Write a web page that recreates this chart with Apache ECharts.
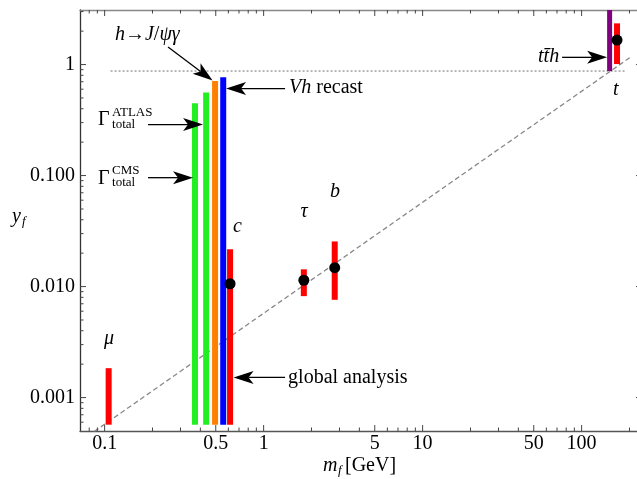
<!DOCTYPE html>
<html>
<head>
<meta charset="utf-8">
<title>Yukawa couplings</title>
<script src="https://cdn.jsdelivr.net/npm/echarts@6/dist/echarts.min.js"></script>
<style>html,body{margin:0;padding:0;background:#fff;}</style>
</head>
<body>
<div id="main" style="width:637px;height:479px;"></div>
<script type="text/javascript">
// axis ranges (both log); the right frame sits just outside the picture
var xMin = 0.07, xMax = 223, xFrameRight = 240;
var yMin = 0.0005, yMax = 3.1;

// ticks
var xMajorTicks = [0.1, 0.5, 1, 5, 10, 50, 100];
var xTickLabels = ['0.1', '0.5', '1', '5', '10', '50', '100'];
var xMinorTicks = [0.08, 0.09, 0.2, 0.3, 0.4, 0.6, 0.7, 0.8, 0.9, 2, 3, 4, 6, 7, 8, 9,
                   20, 30, 40, 60, 70, 80, 90, 200];
var yMajorTicks = [0.001, 0.01, 0.1, 1];
var yTickLabels = ['0.001', '0.010', '0.100', '1'];
var yMinorTicks = [0.0006, 0.0007, 0.0008, 0.0009, 0.002, 0.003, 0.004, 0.005, 0.006, 0.007, 0.008, 0.009,
                   0.02, 0.03, 0.04, 0.05, 0.06, 0.07, 0.08, 0.09, 0.2, 0.3, 0.4, 0.5, 0.6, 0.7, 0.8, 0.9, 2, 3];

// charm upper limits: Gamma_total CMS, Gamma_total ATLAS, h->J/psi gamma, Vh recast
var limitX = [0.37, 0.435, 0.495, 0.557];
var limitLow = [0.00057, 0.00057, 0.00057, 0.00057];
var limitHigh = [0.447, 0.56, 0.71, 0.767];
var limitColors = ['#22ee22', '#22ee22', '#ff8000', '#0000ff'];

// ttH
var tthX = [150];
var tthLow = [0.874];
var tthHigh = [3.1];

// global analysis
var fermionNames = ['μ', 'c', 'τ', 'b', 't'];
var fermionX = [0.106, 0.615, 1.79, 2.8, 167];
var fermionLow = [0.00057, 0.00057, 0.0082, 0.0076, 1.01];
var fermionHigh = [0.00184, 0.0217, 0.0143, 0.0255, 2.35];
var fitX = [0.615, 1.79, 2.8, 167];
var fitY = [0.0106, 0.0114, 0.0148, 1.66];
var fermionLabelX = [0.1066, 0.684, 1.796, 2.814, 164];
var fermionLabelY = [0.0034, 0.0345, 0.0471, 0.0713, 0.589];

// SM line and reference line
var smLineX = [0.0861, 202];
var smLineY = [0.000495, 1.16];
var refLineX = [0.109, 188];
var refLineY = [0.874, 0.874];

// arrows (tail -> head)
var arrowX1 = [0.2505, 1.364, 0.1875, 0.1875, 1.364, 75.4];
var arrowY1 = [1.438, 0.6075, 0.2877, 0.0957, 0.00152, 1.161];
var arrowX2 = [0.4774, 0.5804, 0.416, 0.3598, 0.647, 144.7];
var arrowY2 = [0.717, 0.6075, 0.2877, 0.0957, 0.00152, 1.161];

// annotation texts
var noteTexts = ['{i|h}→{i|J}/{i|ψγ}', '{i|Vh} recast', 'global analysis', '{i|tt\u0304h}'];
var noteX = [0.1162, 1.445, 1.425, 72.2];
var noteY = [1.845, 0.614, 0.00152, 1.169];
var noteAlign = ['left', 'left', 'left', 'right'];
var gammaSups = ['ATLAS', 'CMS'];
var gammaX = [0.0909, 0.0909];
var gammaY = [0.329, 0.0977];

var FONT = 'Liberation Serif';
var FS = 20;
var ITALIC = {fontStyle: 'italic', fontSize: FS, fontFamily: FONT};

function textEl(x, y, text, align, size, italic) {
    return {
        type: 'text', x: x, y: y,
        style: {
            text: text, fill: '#000',
            fontSize: size, fontFamily: FONT, fontStyle: italic ? 'italic' : 'normal',
            align: align, textAlign: align, verticalAlign: 'middle', textVerticalAlign: 'middle',
            rich: {i: ITALIC}
        }
    };
}

function renderXTick(params, api) {
    var cs = params.coordSys;
    var px = api.coord([api.value(0), yMin])[0];
    var major = api.value(2) === 1;
    var len = major ? 6 : 3.5;
    var bot = cs.y + cs.height;
    var ch = [
        {type: 'line', shape: {x1: px, y1: bot, x2: px, y2: bot - len}, style: {stroke: '#444', lineWidth: 1}},
        {type: 'line', shape: {x1: px, y1: cs.y, x2: px, y2: cs.y + len}, style: {stroke: '#444', lineWidth: 1}}
    ];
    if (major) ch.push(textEl(px, bot + 13, xTickLabels[api.value(3)], 'center', FS, false));
    return {type: 'group', children: ch};
}

function renderYTick(params, api) {
    var cs = params.coordSys;
    var py = api.coord([xMin, api.value(1)])[1];
    var major = api.value(2) === 1;
    var len = major ? 6 : 3.5;
    var right = api.coord([xFrameRight, yMin])[0];
    var ch = [
        {type: 'line', shape: {x1: cs.x, y1: py, x2: cs.x + len, y2: py}, style: {stroke: '#444', lineWidth: 1}},
        {type: 'line', shape: {x1: right, y1: py, x2: right - len, y2: py}, style: {stroke: '#444', lineWidth: 1}}
    ];
    if (major) ch.push(textEl(cs.x - 5, py, yTickLabels[api.value(3)], 'right', FS, false));
    return {type: 'group', children: ch};
}

function barRenderer(width, colors) {
    return function (params, api) {
        var lo = api.coord([api.value(0), api.value(1)]);
        var hi = api.coord([api.value(0), api.value(2)]);
        return {
            type: 'rect',
            shape: {x: lo[0] - width / 2, y: hi[1], width: width, height: lo[1] - hi[1]},
            style: {fill: colors[api.value(3)]}
        };
    };
}

function renderArrow(params, api) {
    var p1 = api.coord([api.value(0), api.value(1)]);
    var p2 = api.coord([api.value(2), api.value(3)]);
    var dx = p2[0] - p1[0], dy = p2[1] - p1[1];
    var L = Math.sqrt(dx * dx + dy * dy);
    var ux = dx / L, uy = dy / L, nx = -uy, ny = ux;
    var hl = 20, hw = 6.5, notch = 5;
    var bx = p2[0] - ux * hl, by = p2[1] - uy * hl;
    var nb = [bx + ux * notch, by + uy * notch];
    return {
        type: 'group',
        children: [
            {type: 'line', shape: {x1: p1[0], y1: p1[1], x2: nb[0], y2: nb[1]}, style: {stroke: '#000', lineWidth: 1.3}},
            {type: 'polygon', shape: {points: [p2, [bx + nx * hw, by + ny * hw], nb, [bx - nx * hw, by - ny * hw]]},
             style: {fill: '#000'}}
        ]
    };
}

function renderNote(params, api) {
    var p = api.coord([api.value(0), api.value(1)]);
    var i = api.value(2);
    return textEl(p[0], p[1], noteTexts[i], noteAlign[i], FS, false);
}

function renderGamma(params, api) {
    var p = api.coord([api.value(0), api.value(1)]);
    var i = api.value(2);
    return {
        type: 'group',
        children: [
            textEl(p[0], p[1] + 2, 'Γ', 'left', FS, false),
            textEl(p[0] + 14, p[1] - 6, gammaSups[i], 'left', 13, false),
            textEl(p[0] + 14, p[1] + 6, 'total', 'left', 13, false)
        ]
    };
}

function renderFermionLabel(params, api) {
    var p = api.coord([api.value(0), api.value(1)]);
    return textEl(p[0], p[1], fermionNames[api.value(2)], 'center', FS, true);
}

var xTickData = xMajorTicks.map(function (v, i) { return [v, yMin, 1, i]; })
    .concat(xMinorTicks.map(function (v) { return [v, yMin, 0, -1]; }));
var yTickData = yMajorTicks.map(function (v, i) { return [xMin, v, 1, i]; })
    .concat(yMinorTicks.map(function (v) { return [xMin, v, 0, -1]; }));

var myChart = echarts.init(document.getElementById('main'));

var option = {
    animation: false,
    grid: {left: 80, right: 0, top: 10, bottom: 48},
    xAxis: [
        {type: 'log', logBase: 10, min: xMin, max: xMax,
         axisLine: {show: true, lineStyle: {color: '#555', width: 1.3}},
         axisTick: {show: false}, axisLabel: {show: false}, splitLine: {show: false}},
        {type: 'log', logBase: 10, min: xMin, max: xMax, position: 'top',
         axisLine: {show: true, lineStyle: {color: '#888', width: 1.3}},
         axisTick: {show: false}, axisLabel: {show: false}, splitLine: {show: false}}
    ],
    yAxis: {type: 'log', logBase: 10, min: yMin, max: yMax,
        axisLine: {show: true, lineStyle: {color: '#333', width: 1.3}},
        axisTick: {show: false}, axisLabel: {show: false}, splitLine: {show: false}},
    graphic: [
        {type: 'text', left: 12, top: 207, style: {text: 'y', font: 'italic 20px "Liberation Serif"', fill: '#000'}},
        {type: 'text', left: 22, top: 215, style: {text: 'f', font: 'italic 13px "Liberation Serif"', fill: '#000'}},
        {type: 'text', left: 323, top: 456, style: {text: 'm', font: 'italic 20px "Liberation Serif"', fill: '#000'}},
        {type: 'text', left: 338, top: 464, style: {text: 'f', font: 'italic 13px "Liberation Serif"', fill: '#000'}},
        {type: 'text', left: 345, top: 456, style: {text: '[GeV]', font: '20px "Liberation Serif"', fill: '#000'}}
    ],
    series: [
        {type: 'line', data: smLineX.map(function (x, i) { return [x, smLineY[i]]; }),
         symbol: 'none', z: 1, silent: true,
         lineStyle: {color: '#888', width: 1.3, type: [5, 3]}},
        {type: 'line', data: refLineX.map(function (x, i) { return [x, refLineY[i]]; }),
         symbol: 'none', z: 1, silent: true,
         lineStyle: {color: '#888', width: 1.2, type: [2, 2]}},
        {type: 'custom', z: 2, clip: true, renderItem: barRenderer(6, limitColors),
         data: limitX.map(function (x, i) { return [x, limitLow[i], limitHigh[i], i]; }),
         encode: {x: 0, y: [1, 2]}},
        {type: 'custom', z: 2, clip: true, renderItem: barRenderer(5, ['#800080']),
         data: tthX.map(function (x, i) { return [x, tthLow[i], tthHigh[i], 0]; }),
         encode: {x: 0, y: [1, 2]}},
        {type: 'custom', z: 2, clip: true, renderItem: barRenderer(6, ['#ff0000']),
         data: fermionX.map(function (x, i) { return [x, fermionLow[i], fermionHigh[i], 0]; }),
         encode: {x: 0, y: [1, 2]}},
        {type: 'scatter', z: 3, symbol: 'circle', symbolSize: 11, itemStyle: {color: '#000', opacity: 1},
         data: fitX.map(function (x, i) { return [x, fitY[i]]; })},
        {type: 'custom', z: 4, renderItem: renderArrow,
         data: arrowX1.map(function (x, i) { return [x, arrowY1[i], arrowX2[i], arrowY2[i]]; }),
         encode: {x: [0, 2], y: [1, 3]}},
        {type: 'custom', z: 4, renderItem: renderNote,
         data: noteX.map(function (x, i) { return [x, noteY[i], i]; }), encode: {x: 0, y: 1}},
        {type: 'custom', z: 4, renderItem: renderGamma,
         data: gammaX.map(function (x, i) { return [x, gammaY[i], i]; }), encode: {x: 0, y: 1}},
        {type: 'custom', z: 4, renderItem: renderFermionLabel,
         data: fermionLabelX.map(function (x, i) { return [x, fermionLabelY[i], i]; }), encode: {x: 0, y: 1}},
        {type: 'custom', z: 5, renderItem: renderXTick, data: xTickData, encode: {x: 0, y: 1}},
        {type: 'custom', z: 5, renderItem: renderYTick, data: yTickData, encode: {x: 0, y: 1}}
    ]
};

myChart.setOption(option);
</script>
</body>
</html>
